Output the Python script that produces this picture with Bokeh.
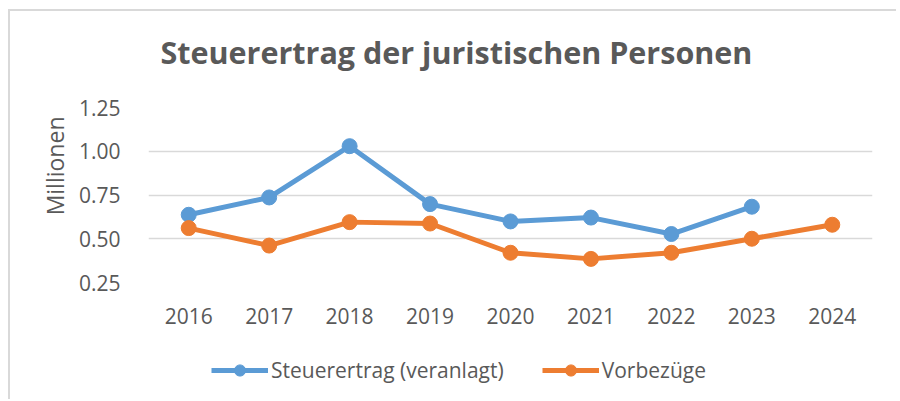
from bokeh.plotting import figure
from bokeh.layouts import column
from bokeh.models import (FactorRange, Range1d, FixedTicker, NumeralTickFormatter,
                          Title, Legend, LegendItem, Label)
from bokeh.embed import file_html
from bokeh.resources import INLINE

years = ["2016", "2017", "2018", "2019", "2020", "2021", "2022", "2023", "2024"]
steuerertrag = [0.637, 0.736, 1.029, 0.698, 0.599, 0.621, 0.527, 0.683]
vorbezuege = [0.561, 0.461, 0.595, 0.587, 0.420, 0.385, 0.420, 0.500, 0.580]
y_ticks = [0.25, 0.50, 0.75, 1.00, 1.25]

title_text = "Steuerertrag der juristischen Personen"
y_label = "Millionen"
name_a = "Steuerertrag (veranlagt)"
name_b = "Vorbezüge"

BLUE = "#5B9BD5"
ORANGE = "#ED7D31"
GRAY = "#595959"
EDGE = "2px solid #D9D9D9"
FONT = "Open Sans"
W = 888
NAN = float("nan")
BASE = {"margin-left": "8px", "border-left": EDGE, "border-right": "0",
        "outline": "none", "box-shadow": "none"}


def blank(height, styles):
    f = figure(width=W, height=height, output_backend="svg", toolbar_location=None,
               x_range=Range1d(0, 1), y_range=Range1d(0, 1),
               x_axis_type=None, y_axis_type=None, min_border=0)
    f.outline_line_color = None
    f.xgrid.visible = False
    f.ygrid.visible = False
    f.styles = styles
    return f


# --- title strip ---
pt = blank(82, dict(BASE, **{"margin-top": "9px", "border-top": EDGE}))
pt.add_layout(Label(x=12, y=42, x_units="screen", y_units="screen",
                    text=title_text, text_font=FONT, text_font_style="bold",
                    text_font_size="30.5px", text_color=GRAY,
                    text_align="left", text_baseline="alphabetic"))

# --- main chart ---
p = figure(width=W, height=243, output_backend="svg", toolbar_location=None,
           x_range=FactorRange(*years, range_padding=0),
           y_range=Range1d(0.25, 1.25),
           min_border_left=138, min_border_right=W - 862,
           min_border_top=16, min_border_bottom=52)
p.styles = dict(BASE)
p.outline_line_color = None
p.xgrid.grid_line_color = None
p.ygrid.grid_line_color = "#D9D9D9"
p.ygrid.grid_line_width = 1.5

p.yaxis.ticker = FixedTicker(ticks=y_ticks)
p.yaxis.formatter = NumeralTickFormatter(format="0.00")
for ax in (p.xaxis[0], p.yaxis[0]):
    ax.axis_line_color = None
    ax.major_tick_line_color = None
    ax.minor_tick_line_color = None
    ax.major_label_text_color = GRAY
    ax.major_label_text_font = FONT
    ax.major_label_text_font_size = "21px"
p.yaxis.major_label_standoff = 22
p.xaxis.major_label_standoff = 19

p.add_layout(Title(text=y_label, text_font=FONT, text_font_style="normal",
                   text_font_size="23px", text_color=GRAY,
                   align="right", offset=9, standoff=10), "left")

xa = years[:len(steuerertrag)]
p.line(xa, steuerertrag, line_color=BLUE, line_width=5)
p.scatter(xa, steuerertrag, size=15, fill_color=BLUE, line_color=BLUE)
p.line(years, vorbezuege, line_color=ORANGE, line_width=5)
p.scatter(years, vorbezuege, size=15, fill_color=ORANGE, line_color=ORANGE)

# --- legend strip ---
pl = blank(65, dict(BASE))
la = pl.line([NAN], [NAN], line_color=BLUE, line_width=5)
sa = pl.scatter([NAN], [NAN], size=15, fill_color=BLUE, line_color=BLUE)
lb = pl.line([NAN], [NAN], line_color=ORANGE, line_width=5)
sb = pl.scatter([NAN], [NAN], size=15, fill_color=ORANGE, line_color=ORANGE)
legend = Legend(items=[LegendItem(label=name_a, renderers=[la, sa]),
                       LegendItem(label=name_b, renderers=[lb, sb])],
                orientation="horizontal", location=(63, 15),
                glyph_width=57, glyph_height=28, label_standoff=3, spacing=38,
                padding=0, margin=0, border_line_color=None,
                background_fill_alpha=0,
                label_text_font=FONT, label_text_font_size="21px",
                label_text_color=GRAY)
pl.add_layout(legend, "center")

layout = column(pt, p, pl, spacing=0)
open("out.html", "w").write(file_html(layout, INLINE))
